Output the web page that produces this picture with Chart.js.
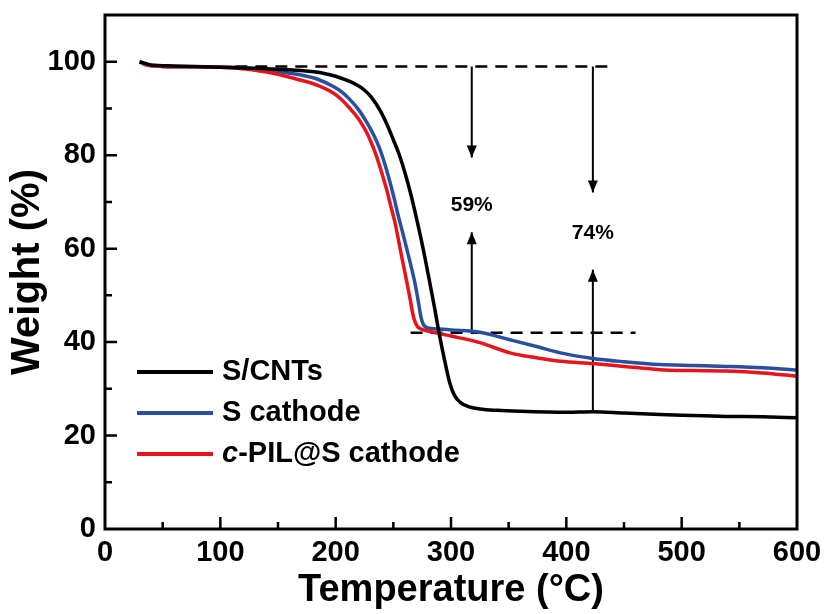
<!DOCTYPE html>
<html>
<head>
<meta charset="utf-8">
<title>TGA curves</title>
<script src="https://cdn.jsdelivr.net/npm/chart.js@4.4.1/dist/chart.umd.min.js"></script>
<style>
  html, body { margin: 0; padding: 0; background: #fff; }
  #tgaChart { display: block; }
</style>
</head>
<body>
<canvas id="tgaChart" width="826" height="614"></canvas>
<script>
// temperature (°C) / weight (%)
const cntTemp = [30, 40, 60, 100, 140, 170, 190, 200, 210, 220, 225, 230, 235, 240, 245, 250, 255, 260, 265, 270, 276, 281, 286, 290, 295, 299, 303, 308, 315, 325, 340, 360, 400, 423, 450, 481, 510, 539, 570, 600];
const cntWeight = [100, 99.3, 99.1, 98.8, 98.5, 98.1, 97.5, 96.9, 96, 94.8, 93.9, 92.7, 91, 88.9, 86.3, 83.3, 80.2, 76.3, 71.8, 66.6, 59.8, 53.5, 47, 41.5, 35.5, 31.2, 28.6, 27.1, 26.2, 25.7, 25.4, 25.2, 25, 25.1, 24.8, 24.5, 24.3, 24.1, 24, 23.8];

const sTemp = [30, 35, 50, 80, 111, 140, 169, 185, 198, 205, 212, 220, 227, 233, 238, 243, 247, 251, 254, 258, 262, 266, 269, 272, 274, 276, 280, 290, 300, 325, 351, 375, 395, 423, 450, 481, 510, 539, 570, 600];
const sWeight = [100, 99.4, 99, 98.9, 98.8, 98.2, 97.2, 96.2, 94.7, 93.6, 92, 89.7, 87, 84.3, 81.5, 77.8, 74.3, 70.5, 67.3, 63.5, 59.6, 55.6, 52.3, 48.2, 45.3, 43.8, 43, 42.8, 42.6, 42.1, 40.5, 39, 37.7, 36.5, 35.8, 35.2, 35, 34.8, 34.5, 34];

const pilTemp = [30, 35, 50, 80, 111, 140, 169, 185, 198, 205, 212, 220, 227, 231, 235.5, 240, 244, 248, 251.5, 254, 257, 260, 263, 265, 267, 269, 271, 273, 285, 300, 325, 351, 375, 395, 423, 450, 481, 510, 539, 570, 600];
const pilWeight = [100, 99.4, 99, 98.9, 98.7, 97.8, 96.1, 94.9, 93.3, 91.9, 90.1, 87.7, 84.8, 82.6, 79.7, 76.2, 72.8, 68.9, 65.5, 62.4, 58.6, 54.9, 51.2, 48.6, 45.9, 44.2, 43.3, 42.9, 42.1, 41.3, 39.9, 37.7, 36.6, 35.9, 35.4, 34.8, 34.1, 33.9, 33.8, 33.4, 32.7];

const seriesNames = ['S/CNTs', 'S cathode', 'c-PIL@S cathode'];

// dashed reference levels: [fromT, toT, weight]
const refLevels = [[113, 440, 99], [265, 460, 42]];

// arrows: [temperature, startWeight, tipWeight]
const arrows = [[318, 99, 79.5], [318, 42, 63.5], [423, 99, 72], [423, 25, 55.5]];

// loss labels: [text, temperature, weight]
const lossLabels = [['59%', 318, 69.4], ['74%', 423, 63.4]];

const xTicks = [0, 100, 200, 300, 400, 500, 600];
const yTicks = [0, 20, 40, 60, 80, 100];

const FONT = '"Liberation Sans", Arial, sans-serif';

function pairs(xs, ys) {
  return xs.map((x, i) => ({ x: x, y: ys[i] }));
}

const curveColors = ['#000000', '#2a4f9f', '#e8141c'];
const curves = [[cntTemp, cntWeight], [sTemp, sWeight], [pilTemp, pilWeight]];

const datasets = curves.map((c, i) => ({
  label: seriesNames[i],
  data: pairs(c[0], c[1]),
  borderColor: curveColors[i],
  borderWidth: 3.5,
  showLine: true,
  pointRadius: 0,
  cubicInterpolationMode: 'monotone',
  order: i === 0 ? 0 : 3 - i
}));

refLevels.forEach(r => {
  datasets.push({
    data: [{ x: r[0], y: r[2] }, { x: r[1], y: r[2] }],
    borderColor: '#000',
    borderWidth: 2.5,
    borderDash: [12, 8],
    showLine: true,
    pointRadius: 0,
    order: 5
  });
});

arrows.forEach(a => {
  datasets.push({
    data: [{ x: a[0], y: a[1] }, { x: a[0], y: a[2] }],
    borderColor: '#000',
    borderWidth: 2,
    showLine: true,
    pointRadius: 0,
    arrow: true,
    order: 5
  });
});

// arrowheads at the last point of each arrow dataset, plus the loss labels
const annotations = {
  id: 'annotations',
  afterDatasetsDraw(chart) {
    const c = chart.ctx;
    const xs = chart.scales.x, ys = chart.scales.y;
    c.save();
    c.fillStyle = '#000';
    chart.data.datasets.forEach(ds => {
      if (!ds.arrow) return;
      const p0 = ds.data[0], p1 = ds.data[ds.data.length - 1];
      const x1 = xs.getPixelForValue(p1.x), y1 = ys.getPixelForValue(p1.y);
      const y0 = ys.getPixelForValue(p0.y);
      const dir = y1 > y0 ? 1 : -1;
      c.beginPath();
      c.moveTo(x1, y1);
      c.lineTo(x1 - 5, y1 - dir * 12);
      c.lineTo(x1 + 5, y1 - dir * 12);
      c.closePath();
      c.fill();
    });
    c.font = 'bold 21px ' + FONT;
    c.textAlign = 'center';
    c.textBaseline = 'middle';
    lossLabels.forEach(l => {
      c.fillText(l[0], xs.getPixelForValue(l[1]), ys.getPixelForValue(l[2]));
    });
    c.restore();
  }
};

// closed frame with inward major/minor ticks
const frame = {
  id: 'frame',
  afterDraw(chart) {
    const c = chart.ctx;
    const a = chart.chartArea;
    const xs = chart.scales.x, ys = chart.scales.y;
    c.save();
    c.strokeStyle = '#000';
    c.lineWidth = 3;
    c.strokeRect(a.left, a.top, a.right - a.left, a.bottom - a.top);
    c.lineWidth = 2.5;
    c.beginPath();
    for (let t = 50; t < 600; t += 50) {
      const px = xs.getPixelForValue(t);
      const len = t % 100 === 0 ? 12 : 7;
      c.moveTo(px, a.bottom);
      c.lineTo(px, a.bottom - len);
    }
    for (let w = 10; w <= 100; w += 10) {
      const py = ys.getPixelForValue(w);
      const len = w % 20 === 0 ? 12 : 7;
      c.moveTo(a.left, py);
      c.lineTo(a.left + len, py);
    }
    c.stroke();
    c.restore();
  }
};

// legend in the lower left of the plot, italic "c" prefix on the last entry
const insideLegend = {
  id: 'insideLegend',
  afterDraw(chart) {
    const c = chart.ctx;
    c.save();
    c.textBaseline = 'middle';
    const rowY = [372, 413, 454];
    for (let i = 0; i < 3; i++) {
      const ds = chart.data.datasets[i];
      c.strokeStyle = ds.borderColor;
      c.lineWidth = 4;
      c.beginPath();
      c.moveTo(137, rowY[i]);
      c.lineTo(213, rowY[i]);
      c.stroke();
      c.fillStyle = '#000';
      let x = 222;
      let text = ds.label;
      if (text.startsWith('c-')) {
        c.font = 'italic bold 29px ' + FONT;
        c.fillText('c', x, rowY[i]);
        x += c.measureText('c').width;
        text = text.slice(1);
      }
      c.font = 'bold 29px ' + FONT;
      c.fillText(text, x, rowY[i]);
    }
    c.restore();
  }
};

new Chart(document.getElementById('tgaChart'), {
  type: 'scatter',
  data: { datasets: datasets },
  options: {
    responsive: false,
    animation: false,
    devicePixelRatio: 1,
    layout: { padding: { top: 15, right: 29, left: 0, bottom: 0 } },
    plugins: {
      legend: { display: false },
      tooltip: { enabled: false }
    },
    scales: {
      x: {
        type: 'linear',
        min: 0,
        max: 600,
        afterFit: s => { s.height = 85; s.paddingLeft = 0; s.paddingRight = 0; },
        afterBuildTicks: s => { s.ticks = xTicks.map(v => ({ value: v })); },
        grid: { display: false, drawTicks: false },
        border: { display: false },
        ticks: {
          padding: 7,
          color: '#000',
          font: { family: FONT, size: 29, weight: 'bold' }
        },
        title: {
          display: true,
          text: 'Temperature (°C)',
          color: '#000',
          padding: { top: 0, bottom: 1 },
          font: { family: FONT, size: 38, weight: 'bold' }
        }
      },
      y: {
        type: 'linear',
        min: 0,
        max: 110,
        afterFit: s => { s.width = 105; s.paddingTop = 0; s.paddingBottom = 0; },
        afterBuildTicks: s => { s.ticks = yTicks.map(v => ({ value: v })); },
        grid: { display: false, drawTicks: false },
        border: { display: false },
        ticks: {
          padding: 9,
          color: '#000',
          font: { family: FONT, size: 29, weight: 'bold' }
        },
        title: {
          display: true,
          text: 'Weight (%)',
          color: '#000',
          padding: { top: 4, bottom: 0 },
          font: { family: FONT, size: 40, weight: 'bold' }
        }
      }
    }
  },
  plugins: [annotations, frame, insideLegend]
});
</script>
</body>
</html>
